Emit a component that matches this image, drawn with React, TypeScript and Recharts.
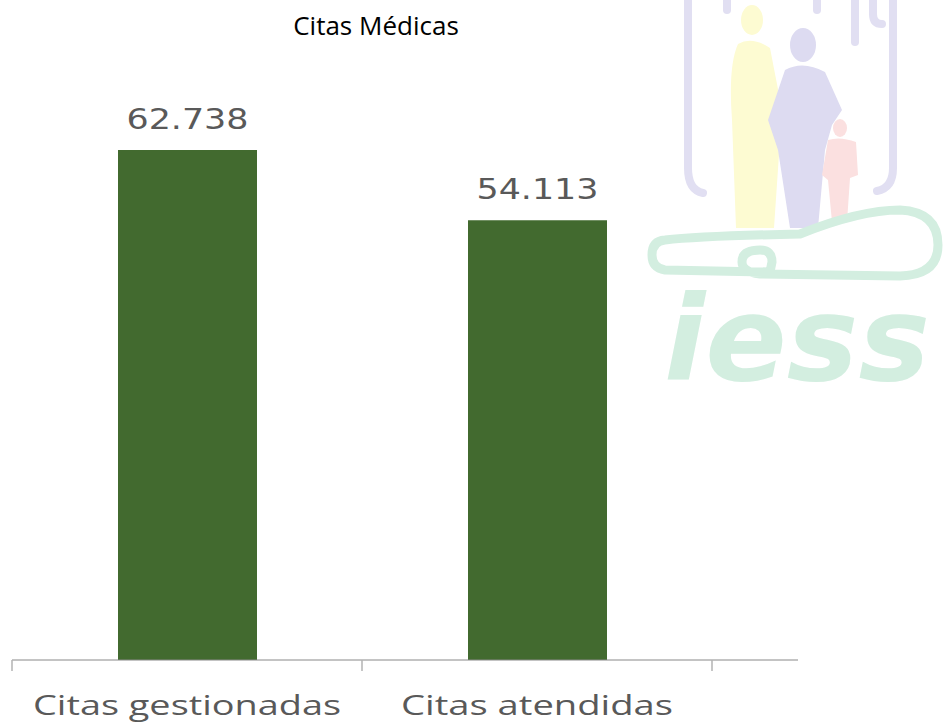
import { Bar, BarChart, XAxis, YAxis, LabelList } from "recharts";

const CATEGORIES = ["Citas gestionadas", "Citas atendidas"];
const VALUES = [62738, 54113];
const Y_MAX = 70000;

const BAR_COLOR = "#426a2f";
const AXIS_COLOR = "#888888";
const TICK_COLOR = "#b3b3b3";
const TEXT_GRAY = "#595959";

// plot geometry (Excel-like axis: tick marks between categories, line runs past the last one)
const CHART_W = 946;
const CHART_H = 722;
const MARGIN = { top: 91, right: 148, bottom: 0, left: 12 };
const AXIS_TAIL = 86;
const BAND = (CHART_W - MARGIN.left - MARGIN.right - AXIS_TAIL) / CATEGORIES.length;

const data = CATEGORIES.map((name, i) => ({ name, value: VALUES[i] }));

// 62738 -> "62.738"
const fmt = (v: number) => String(v).replace(/\B(?=(\d{3})+(?!\d))/g, ".");

function CategoryTick(props: any) {
  const { x, y, payload, index } = props;
  const long = payload.value.length > 15;
  return (
    <g>
      {index === 0 && <line x1={x - BAND / 2} x2={x - BAND / 2} y1={y} y2={y + 11} stroke={TICK_COLOR} strokeWidth={1.5} />}
      <line x1={x + BAND / 2} x2={x + BAND / 2} y1={y} y2={y + 11} stroke={TICK_COLOR} strokeWidth={1.5} />
      <text
        x={x}
        y={y + 55}
        textAnchor="middle"
        fill={TEXT_GRAY}
        fontSize={27}
        fontFamily="'Open Sans', sans-serif"
        textLength={long ? 308 : 272}
        lengthAdjust="spacingAndGlyphs"
      >
        {payload.value}
      </text>
    </g>
  );
}

function ValueLabel(props: any) {
  const { x, y, width, value } = props;
  return (
    <text
      x={x + width / 2}
      y={y - 21}
      textAnchor="middle"
      fill={TEXT_GRAY}
      fontSize={28}
      fontFamily="'DejaVu Sans', sans-serif"
      textLength={122}
      lengthAdjust="spacingAndGlyphs"
    >
      {fmt(value)}
    </text>
  );
}

function Watermark() {
  return (
    <svg width={946} height={722} style={{ position: "absolute", left: 0, top: 0 }}>
      {/* bracket */}
      <g fill="none" stroke="#e1dff2" strokeWidth={8} strokeLinecap="round">
        <path d="M688 0 V168 Q688 190 703 193" />
        <path d="M893 0 V168 Q893 188 877 191" />
        <path d="M727 0 V10" />
        <path d="M817 0 V10" />
        <path d="M855 0 V42" />
        <path d="M873 0 V14 Q873 24 882 24" />
      </g>
      {/* people */}
      <g fill="#fdfbd2">
        <ellipse cx={752} cy={20} rx={11} ry={15} />
        <path d="M738 44 Q752 36 770 48 L782 110 L774 228 L736 228 L732 120 Q728 66 738 44 Z" />
      </g>
      <g fill="#dddbf1">
        <ellipse cx={803} cy={45} rx={13} ry={17} />
        <path d="M785 70 Q803 60 825 72 L842 110 L832 125 L825 150 L818 228 L790 228 L778 150 L768 120 Z" />
      </g>
      <g fill="#fbe0e0">
        <ellipse cx={840} cy={128} rx={7} ry={9} />
        <path d="M828 140 Q840 136 856 142 L858 175 L850 178 L847 222 L832 222 L828 180 L822 175 Z" />
      </g>
      {/* loop */}
      <path
        d="M665 240 Q700 236 800 234 Q860 210 900 210 Q938 212 938 245 Q938 275 900 276 L760 274 Q742 272 742 262 Q742 250 760 250 Q772 250 772 262 L770 272 L665 270 Q652 268 652 255 Q652 241 665 240 Z"
        fill="none"
        stroke="#d3eee0"
        strokeWidth={9}
      />
      <text
        x={664}
        y={380}
        fill="#d3eee0"
        fontSize={118}
        fontWeight={900}
        fontStyle="italic"
        fontFamily="'DejaVu Sans', sans-serif"
        textLength={266}
        lengthAdjust="spacingAndGlyphs"
      >
        iess
      </text>
    </svg>
  );
}

export default function App() {
  return (
    <div style={{ position: "absolute", left: 0, top: 0, width: CHART_W, height: CHART_H, background: "#fff", overflow: "hidden" }}>
      <Watermark />
      <div
        style={{
          position: "absolute",
          left: 0,
          top: 7,
          width: 752,
          textAlign: "center",
          fontFamily: "'Open Sans', sans-serif",
          fontSize: 26,
          color: "#000",
        }}
      >
        Citas Médicas
      </div>
      <div style={{ position: "absolute", left: 0, top: 0 }}>
        <BarChart width={CHART_W} height={CHART_H} data={data} margin={MARGIN}>
          <XAxis
            dataKey="name"
            padding={{ left: 0, right: AXIS_TAIL }}
            stroke={AXIS_COLOR}
            tickLine={false}
            tickSize={0}
            tickMargin={0}
            height={62}
            tick={<CategoryTick />}
            interval={0}
          />
          <YAxis hide domain={[0, Y_MAX]} />
          <Bar dataKey="value" fill={BAR_COLOR} barSize={139} isAnimationActive={false}>
            <LabelList dataKey="value" content={<ValueLabel />} />
          </Bar>
        </BarChart>
      </div>
    </div>
  );
}
